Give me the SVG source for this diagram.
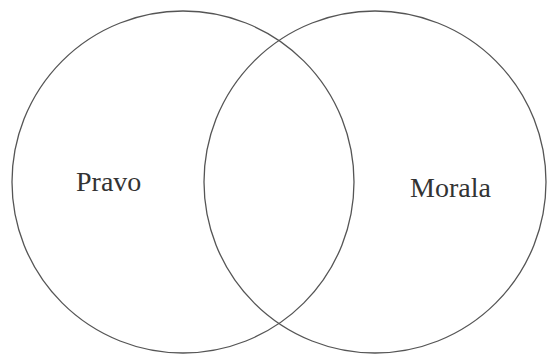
<svg xmlns="http://www.w3.org/2000/svg" width="547" height="358" viewBox="0 0 547 358">
<style>
.c{fill:none;stroke:#555;stroke-width:1.3}
.t{font-family:'Liberation Serif','DejaVu Serif',serif;font-size:28px;fill:#333}
</style>
<rect width="547" height="358" fill="#fff"/>
<g id="pravo">
<circle class="c" cx="183" cy="182" r="171"/>
<text class="t" x="76" y="191" font-family="Liberation Serif, serif">Pravo</text>
</g>
<g id="morala">
<circle class="c" cx="375" cy="182" r="171"/>
<text class="t" x="410" y="197" font-family="Liberation Serif, serif">Morala</text>
</g>
<g id="connectors"/>
</svg>
